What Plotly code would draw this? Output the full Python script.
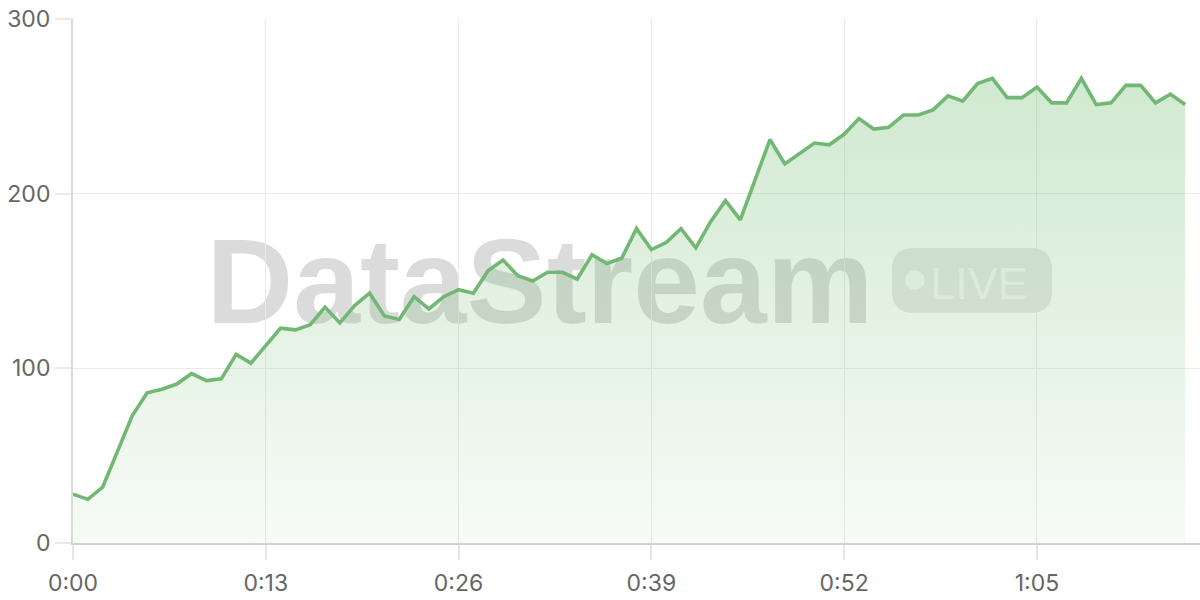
import plotly.graph_objects as go

# ---- data ----
seconds = list(range(76))
values = [28, 25, 32, 52, 73, 86, 88, 91, 97, 93,
          94, 108, 103, 113, 123, 122, 125, 135, 126, 136,
          143, 130, 128, 141, 134, 141, 145, 143, 156, 162,
          153, 150, 155, 155, 151, 165, 160, 163, 180, 168,
          172, 180, 169, 184, 196, 185, 208, 231, 217, 223,
          229, 228, 234, 243, 237, 238, 245, 245, 248, 256,
          253, 263, 266, 255, 255, 261, 252, 252, 266, 251,
          252, 262, 262, 252, 257, 251]
x_tick_vals = [0, 13, 26, 39, 52, 65]
x_tick_text = ["0:00", "0:13", "0:26", "0:39", "0:52", "1:05"]
y_tick_vals = [0, 100, 200, 300]
watermark_text = "DataStream"
badge_text = "LIVE"

W, H = 1200, 600
ML, MR, MT, MB = 73, 0, 19, 57
PW, PH = W - ML - MR, H - MT - MB


def px(xp):
    return (xp - ML) / PW


def py(yp):
    return (H - MB - yp) / PH


fig = go.Figure()
fig.add_trace(go.Scatter(
    x=seconds, y=values, mode="lines",
    line=dict(color="#72b874", width=3.6),
    fill="tozeroy",
    fillgradient=dict(type="vertical",
                      colorscale=[[0, "rgba(110,185,110,0.06)"],
                                  [1, "rgba(110,185,110,0.32)"]]),
    hoverinfo="skip", showlegend=False,
))

# rounded pill path for the badge
x0, x1, y0, y1 = px(892), px(1052), py(313), py(248)
rx, ry = 22 / PW, 22 / PH
pill = (f"M {x0+rx},{y0} L {x1-rx},{y0} Q {x1},{y0} {x1},{y0+ry} "
        f"L {x1},{y1-ry} Q {x1},{y1} {x1-rx},{y1} L {x0+rx},{y1} "
        f"Q {x0},{y1} {x0},{y1-ry} L {x0},{y0+ry} Q {x0},{y0} {x0+rx},{y0} Z")

shapes = [
    dict(type="rect", xref="paper", yref="paper", layer="below",
         x0=px(200), x1=px(880), y0=py(330), y1=py(210),
         line=dict(width=0), fillcolor="rgba(0,0,0,0)",
         label=dict(text=watermark_text, textposition="middle center",
                    font=dict(family="Liberation Sans", size=120, weight="bold",
                              color="rgba(0,0,0,0.14)"))),
    dict(type="path", xref="paper", yref="paper", layer="below", path=pill,
         line=dict(width=0), fillcolor="rgba(0,0,0,0.09)"),
    dict(type="circle", xref="paper", yref="paper", layer="below",
         x0=px(905), x1=px(925), y0=py(290), y1=py(270),
         line=dict(width=0), fillcolor="rgba(255,255,255,0.7)"),
    dict(type="rect", xref="paper", yref="paper", layer="below",
         x0=px(929), x1=px(1029), y0=py(300), y1=py(258),
         line=dict(width=0), fillcolor="rgba(0,0,0,0)",
         label=dict(text=badge_text, textposition="middle center",
                    font=dict(family="Liberation Sans", size=45,
                              color="rgba(255,255,255,0.7)"))),
]

fig.update_layout(
    width=W, height=H,
    margin=dict(l=ML, r=MR, t=MT, b=MB, pad=0),
    paper_bgcolor="white", plot_bgcolor="white",
    shapes=shapes,
    font=dict(family="Inter", size=23, color="#666666"),
    xaxis=dict(range=[0, 76], tickvals=x_tick_vals, ticktext=x_tick_text,
               showgrid=True, gridcolor="#e9e9e9", gridwidth=1,
               showline=True, linecolor="#d0d0d0", linewidth=2,
               ticks="outside", ticklen=15, tickcolor="#e6e6e6", tickwidth=1.5,
               ticklabelstandoff=3, ticklabeloverflow="allow",
               zeroline=False, automargin=False, fixedrange=True),
    yaxis=dict(range=[0, 300], tickvals=y_tick_vals,
               showgrid=True, gridcolor="#e9e9e9", gridwidth=1,
               showline=True, linecolor="#dadada", linewidth=2,
               ticks="outside", ticklen=16, tickcolor="#e9e9e9", tickwidth=1.5,
               ticklabeloverflow="allow",
               zeroline=False, automargin=False, fixedrange=True),
)

fig.write_html(
    "out.html",
    config={"displayModeBar": False},
    post_script="document.body.style.margin='0';document.body.style.overflow='hidden';",
)
